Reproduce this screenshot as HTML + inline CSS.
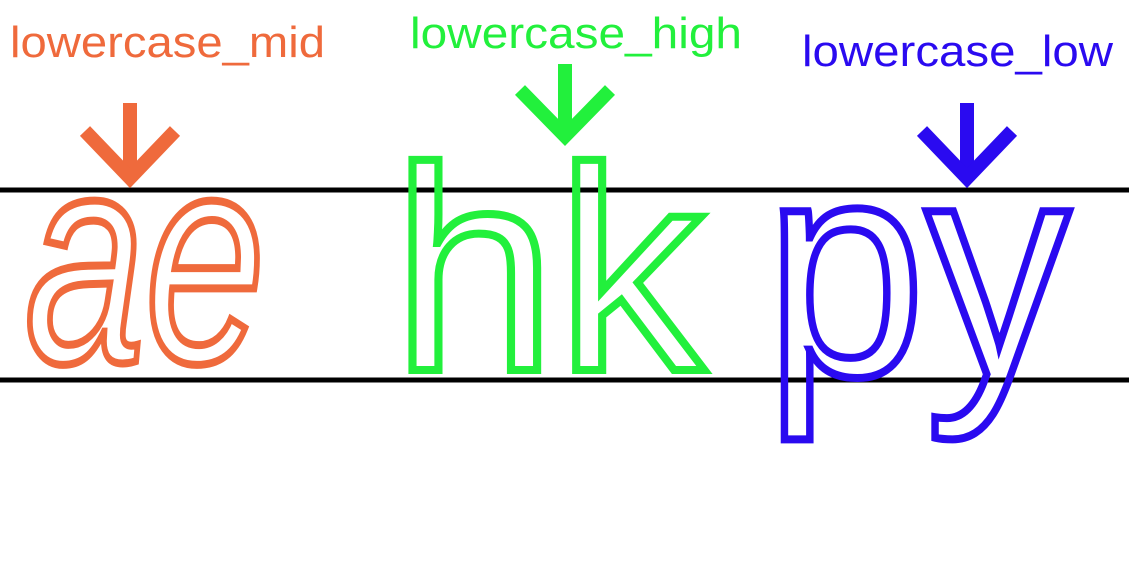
<!DOCTYPE html>
<html><head><meta charset="utf-8"><style>
html,body{margin:0;padding:0;background:#fff;}
svg{display:block;}
</style></head><body>
<svg width="1129" height="566" viewBox="0 0 1129 566" xmlns="http://www.w3.org/2000/svg">
  <line x1="0" y1="190" x2="1129" y2="190" stroke="#000" stroke-width="5"/>
  <line x1="0" y1="380" x2="1129" y2="380" stroke="#000" stroke-width="5"/>

  <text x="10" y="57" font-family="Liberation Sans, sans-serif" font-size="44" textLength="315" lengthAdjust="spacingAndGlyphs" fill="#ef6a3c">lowercase_mid</text>
  <text x="410" y="48" font-family="Liberation Sans, sans-serif" font-size="44" textLength="332" lengthAdjust="spacingAndGlyphs" fill="#22f03c">lowercase_high</text>
  <text x="802" y="66" font-family="Liberation Sans, sans-serif" font-size="44" textLength="311" lengthAdjust="spacingAndGlyphs" fill="#2a0af0">lowercase_low</text>

  <g stroke="#ef6a3c" stroke-width="14" fill="none">
    <line x1="130" y1="103" x2="130" y2="180"/>
    <polyline points="85,131 130,178 175,131"/>
  </g>
  <g stroke="#22f03c" stroke-width="14" fill="none">
    <line x1="565" y1="64" x2="565" y2="138"/>
    <polyline points="520,90 565,136 610,90"/>
  </g>
  <g stroke="#2a0af0" stroke-width="14" fill="none">
    <line x1="967" y1="103" x2="967" y2="180"/>
    <polyline points="922,131 967,178 1012,131"/>
  </g>

  <text x="25" y="362" font-family="Liberation Sans, sans-serif" font-style="italic" font-size="300" textLength="240" lengthAdjust="spacingAndGlyphs" fill="none" stroke="#ef6a3c" stroke-width="8">ae</text>
  <text x="392" y="370" font-family="Liberation Sans, sans-serif" font-size="290" textLength="312" lengthAdjust="spacingAndGlyphs" fill="none" stroke="#22f03c" stroke-width="8">hk</text>
  <text x="765" y="375" font-family="Liberation Sans, sans-serif" font-size="310" textLength="305" lengthAdjust="spacingAndGlyphs" fill="none" stroke="#2a0af0" stroke-width="8">py</text>
</svg>
</body></html>
